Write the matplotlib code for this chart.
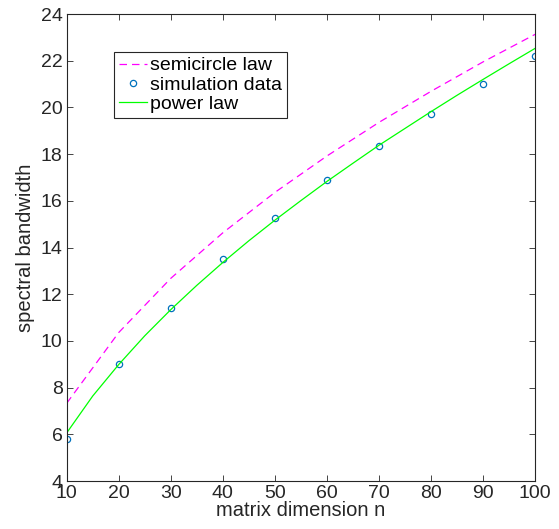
import numpy as np
import matplotlib.pyplot as plt

# matrix sizes
n = [10, 20, 30, 40, 50, 60, 70, 80, 90, 100]
# semicircle law prediction
semicircle = [7.33, 10.36, 12.68, 14.63, 16.36, 17.92, 19.36, 20.69, 21.95, 23.13]
# simulation data
sim = [5.80, 9.00, 11.42, 13.49, 15.28, 16.90, 18.36, 19.70, 21.02, 22.19]
# power law fit, read at finer spacing
n_fit = [10, 15, 20, 25, 30, 35, 40, 45, 50, 55, 60, 65, 70, 75, 80, 85, 90, 95, 100]
power = [6.06, 7.64, 8.99, 10.22, 11.34, 12.38, 13.36, 14.29, 15.17, 16.01,
         16.83, 17.61, 18.38, 19.10, 19.82, 20.52, 21.20, 21.87, 22.53]

plt.rcParams['font.family'] = ['Liberation Sans', 'DejaVu Sans']

fig = plt.figure(figsize=(5.59, 5.29), dpi=100)
ax = fig.add_axes([0.1193, 0.0907, 0.838, 0.8828])

ax.plot(n, semicircle, linestyle=(0, (6, 4)), color='#ff00ff', linewidth=0.9,
        label='semicircle law')
ax.plot(n, sim, linestyle='none', marker='o', markersize=4.5, markerfacecolor='none',
        markeredgecolor='#0072bd', markeredgewidth=0.9, label='simulation data')
ax.plot(n_fit, power, color='#00ff00', linewidth=0.9, label='power law')

ax.set_xlim(10, 100)
ax.set_ylim(4, 24)
ax.set_xticks(np.arange(10, 101, 10))
ax.set_yticks(np.arange(4, 25, 2))
ax.tick_params(direction='in', top=True, right=True, length=4, width=0.6,
               labelsize=14, colors='#262626', pad=3)
for s in ax.spines.values():
    s.set_linewidth(0.8)
    s.set_color('#262626')

ax.set_xlabel('matrix dimension n', fontsize=14.5, color='#262626', labelpad=-1)
ax.set_ylabel('spectral bandwidth', fontsize=14.5, color='#262626', labelpad=4)

leg = ax.legend(loc='upper left', bbox_to_anchor=(114 / 559, 1 - 52 / 529),
                bbox_transform=fig.transFigure, fontsize=14, fancybox=False,
                framealpha=1, edgecolor='#262626', borderaxespad=0, borderpad=0.25,
                handlelength=1.45, handletextpad=0.15, labelspacing=0.08)
leg.get_frame().set_linewidth(0.8)

fig.savefig('out.png', dpi=100)
